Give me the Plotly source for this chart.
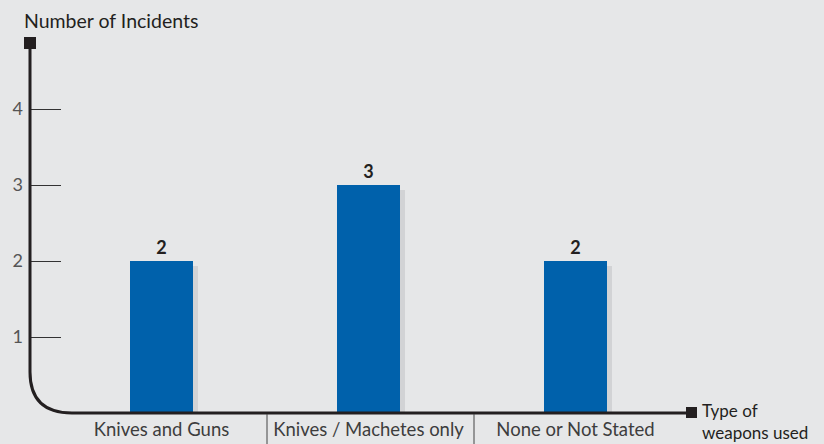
import plotly.graph_objects as go

categories = ["Knives and Guns", "Knives / Machetes only", "None or Not Stated"]
incidents = [2, 3, 2]
y_ticks = [1, 2, 3, 4]
y_tick_text = ["1", "2", "3", "4"]

W, H = 824, 444
BOTTOM = 31                     # space below the baseline for category names
PLOT_H = H - BOTTOM
PX_PER_UNIT = 76
PX_PER_CAT = 207
FIRST_CENTER = 161.5

BG = "#e6e7e8"
BLUE = "#0061ab"
SHADOW = "#d2d3d5"
INK = "#231f20"
FONT = "Lato, 'Open Sans', sans-serif"

bar_w = 63 / PX_PER_CAT
shadow_dx = 5 / PX_PER_CAT
shadow_dy = 5 / PX_PER_UNIT
xs = list(range(len(categories)))

fig = go.Figure()

# drop shadow behind each bar
fig.add_trace(go.Bar(
    x=xs, y=[v - shadow_dy for v in incidents],
    width=bar_w, offset=-bar_w / 2 + shadow_dx,
    marker=dict(color=SHADOW, line=dict(width=0)),
    hoverinfo="skip", showlegend=False,
))
fig.add_trace(go.Bar(
    x=xs, y=incidents, width=bar_w, offset=-bar_w / 2,
    marker=dict(color=BLUE, line=dict(width=0)),
    text=[f"<b>{v}</b>" for v in incidents], textposition="outside",
    textfont=dict(family=FONT, size=18, color=INK),
    cliponaxis=False, showlegend=False,
))


def px(x):
    return x / W


def py(y):
    return 1 - y / PLOT_H


# axis with rounded corner
path = (f"M {px(30)},{py(48)} L {px(30)},{py(372)} "
        f"Q {px(30)},{py(413)} {px(72)},{py(413)} L {px(688)},{py(413)}")
shapes = [
    dict(type="path", path=path, xref="paper", yref="paper",
         line=dict(color=INK, width=3)),
    dict(type="rect", xref="paper", yref="paper",
         x0=px(24), x1=px(36), y0=py(37), y1=py(49),
         fillcolor=INK, line=dict(width=0)),
    dict(type="rect", xref="paper", yref="paper",
         x0=px(686), x1=px(697), y0=py(407), y1=py(418),
         fillcolor=INK, line=dict(width=0)),
]
# separators between category names
for i in range(len(categories) - 1):
    shapes.append(dict(type="line", xref="x", yref="paper",
                       x0=i + 0.5 + 2 / PX_PER_CAT, x1=i + 0.5 + 2 / PX_PER_CAT,
                       y0=py(414), y1=py(H), line=dict(color="#444", width=1)))

x_lo = -FIRST_CENTER / PX_PER_CAT
x_hi = (W - FIRST_CENTER) / PX_PER_CAT

fig.update_layout(
    width=W, height=H,
    margin=dict(l=0, r=0, t=0, b=BOTTOM, pad=0),
    paper_bgcolor=BG, plot_bgcolor=BG,
    barmode="overlay",
    shapes=shapes,
    font=dict(family=FONT, color="#444"),
    xaxis=dict(
        range=[x_lo, x_hi], tickvals=xs, ticktext=categories,
        showgrid=False, zeroline=False, showline=False, ticks="",
        tickfont=dict(family=FONT, size=18.5, color="#3d3d3d"),
        ticklabelstandoff=3,
        fixedrange=True,
    ),
    yaxis=dict(
        range=[0, PLOT_H / PX_PER_UNIT], tickvals=y_ticks, ticktext=y_tick_text,
        anchor="free", position=px(30), side="left",
        ticks="inside", ticklen=30, tickwidth=1, tickcolor="#333",
        showgrid=False, zeroline=False, showline=False,
        tickfont=dict(family=FONT, size=18, color="#555"),
        ticklabelstandoff=7,
        fixedrange=True,
    ),
    annotations=[
        dict(text="Number of Incidents", xref="paper", yref="paper",
             x=px(22), y=py(21), xanchor="left", yanchor="middle",
             showarrow=False, font=dict(family=FONT, size=19.5, color=INK)),
        dict(text="Type of<br>weapons used", xref="paper", yref="paper",
             x=px(700), y=py(421), xanchor="left", yanchor="middle",
             align="left", showarrow=False,
             font=dict(family=FONT, size=17, color=INK)),
    ],
)

fig.write_html("out.html")
